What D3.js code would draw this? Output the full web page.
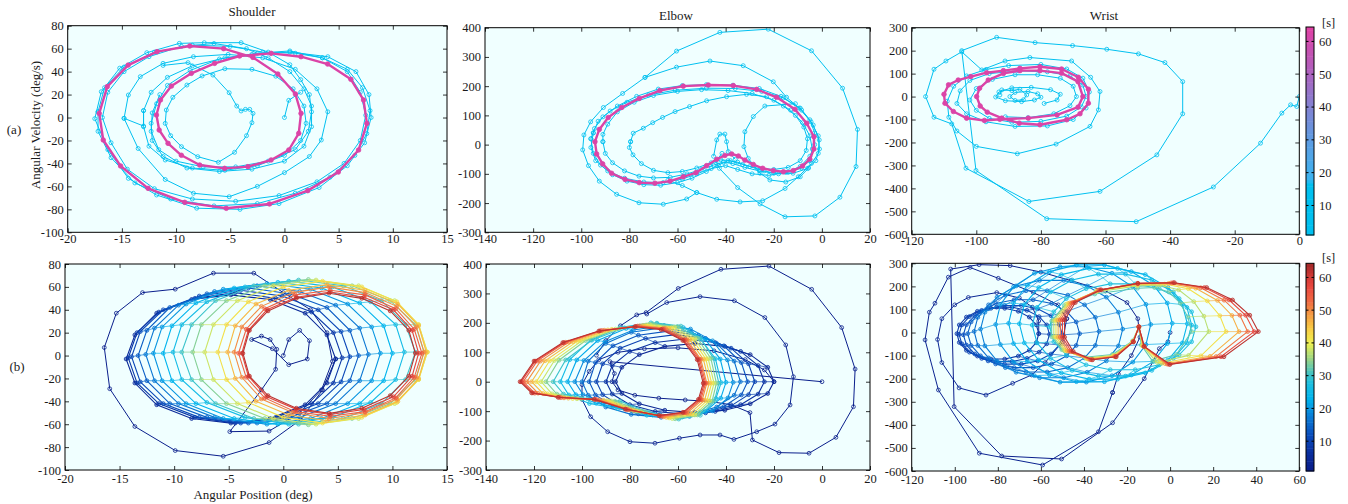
<!DOCTYPE html>
<html>
<head>
<meta charset="utf-8">
<script src="https://cdn.jsdelivr.net/npm/d3@7"></script>
<style>
  body { margin: 0; background: #fff; }
  text { font-family: "Liberation Serif", "Times New Roman", serif; }
</style>
</head>
<body>
<script>
// ---------- tick labels ----------
var shoulderXTicks = [-20, -15, -10, -5, 0, 5, 10, 15];
var shoulderYTicks = [-100, -80, -60, -40, -20, 0, 20, 40, 60, 80];
var elbowXTicks = [-140, -120, -100, -80, -60, -40, -20, 0, 20];
var elbowYTicks = [-300, -200, -100, 0, 100, 200, 300, 400];
var wristAXTicks = [-120, -100, -80, -60, -40, -20, 0];
var wristBXTicks = [-120, -100, -80, -60, -40, -20, 0, 20, 40, 60];
var wristYTicks = [-600, -500, -400, -300, -200, -100, 0, 100, 200, 300];
var colorTicks = [10, 20, 30, 40, 50, 60];

// colour maps (time in s -> colour)
var stopsA = [[1, "#00c0f0"], [17, "#00c0f0"], [17.6, "#3cb4f0"], [30, "#5e9ce2"], [40, "#8282d2"], [50, "#ac64c0"], [64.4, "#e040a4"]];
var stopsB = [[0.9, "#0a1c88"], [6, "#0a2c9c"], [12, "#0a4cbc"], [18, "#0a80d8"], [23, "#00b4ee"], [28, "#20c0e0"], [31, "#48c4c0"], [35, "#98d488"], [40, "#eef050"], [44, "#f8d044"], [48, "#f6a442"], [53, "#f06842"], [57, "#ea4a40"], [60, "#d63a36"], [64.3, "#a02828"]];

// row (a): time of the cyan trace and of the last loop
var aTimes = [10, 63];

// ---------- (a) Shoulder ----------
var shoulderA_cyan = [
  [[-11.2,45.4],[-8.9,47.8],[-6.6,37],[-5.1,21.6],[-4.4,10],[-4,5.7],[-3.6,7.1],[-3.2,7.1],[-2.9,3.6],[-3,-4.5],[-3.5,-15.8],[-4.6,-30.3],[-6.1,-39],[-8,-34.1],[-9.5,-25.4],[-10.5,-15.8],[-11,-5.1],[-10.9,6.5],[-10.3,17.6],[-9,28.3],[-7.6,36.2],[-5.5,42.5],[-3,42],[-0.8,36],[0.8,25],[1.8,10],[2,-5],[1.5,-20],[0,-33],[-2.5,-42],[-5.5,-46],[-8.5,-44],[-11,-37],[-12.5,-25],[-13,-8],[-13,6],[-12.3,22],[-10.8,35],[-8.5,45],[-5.5,52],[-2.5,56],[0.5,58],[3.5,52],[5.8,40],[7,22],[7.5,2],[7,-20],[5.5,-40],[3,-56],[-0.5,-68],[-4.5,-73],[-8.5,-71],[-12,-62],[-14.5,-45],[-16,-22],[-16.8,0],[-16.3,22],[-14.8,40],[-12.5,53],[-9.5,62],[-6.5,64.5],[-3.5,60],[-1.5,52],[0.5,40],[1.8,25],[2.5,10],[2.5,-8],[1.8,-25],[0,-38],[-3,-45],[-6,-47],[-9,-44],[-11.2,-34],[-12.2,-20],[-12.3,-5],[-11.8,12],[-10.8,28],[-8.7,41],[-6,51],[-3,55],[0.5,57],[4,53],[6.6,40],[7.8,20],[8,0],[7.4,-22],[5.8,-42],[3.2,-61],[-0.5,-75],[-4.1,-80],[-8.1,-79],[-11.8,-67.5],[-14.4,-53],[-16.3,-28],[-17.5,-1],[-16.9,22.5],[-15.2,43],[-12.7,56.5],[-9.7,64.6],[-7.4,65.2],[-4,65.2],[-1.5,57],[0.5,46],[1.5,33],[2.3,20],[2.5,5],[2.2,-12],[1,-28],[-1.5,-38],[-4.5,-43],[-7.5,-43],[-10,-38],[-11.6,-28],[-12.3,-12],[-12.2,4],[-11.5,20]],
  [[-14.8,-0.7],[-14.4,19.6],[-13.3,35.6],[-11.2,47.2],[-8.4,53],[-5.2,55],[-2,52],[1,42],[3,25],[4,5],[3.4,-19.6],[2.3,-34],[0,-48],[-2.5,-60],[-5.1,-69],[-8.4,-66],[-11,-54],[-13.5,-27],[-14.8,-0.7],[-13,-7.4],[-13,6]],
  [[-17.2,5],[-16.6,26],[-14.8,44],[-12,57],[-8.5,63],[-5,62],[-2,57],[1,56],[3.5,52],[5.8,42],[7.2,26],[7.9,6],[7.6,-14],[6.5,-33],[4.2,-52],[1,-66],[-2.5,-75],[-6.5,-77],[-10.5,-71],[-13.8,-57],[-16,-35],[-17.2,-12],[-17.2,5]],
  [[0,0],[0.4,15],[1.5,22]]
];
var shoulderA_final = [[-11.75,57.4],[-8.74,62.3],[-5.61,60],[-2.91,52.4],[-0.61,37.9],[1.01,20.5],[1.53,3.6],[1.32,-13.8],[0.4,-28.3],[-1.23,-37],[-3.37,-42.8],[-5.52,-44.3],[-7.82,-41.4],[-9.51,-32.9],[-10.74,-22.5],[-11.56,-10.9],[-11.81,2.2],[-11.44,15.3],[-10.43,27.4],[-8.59,38.5],[-6.44,47.2],[-4.14,53.6],[-1.23,55.9],[1.53,53],[3.99,46.6],[6.13,33.3],[7.3,15.3],[7.61,-5.1],[6.84,-28.3],[4.97,-47.5],[2.15,-63.7],[-1.38,-75.3],[-5.37,-79.1],[-9.2,-73.9],[-12.58,-61.7],[-15.12,-42.2],[-16.72,-19.6],[-17.09,3.6],[-16.35,26.9],[-14.42,45.7]];

// ---------- (a) Elbow ----------
var elbowA_cyan = [
  [[-52,-164],[-56.2,-186],[-65.9,-204],[-76,-199],[-85.3,-170],[-92.5,-125],[-97,-72],[-99.4,-18],[-98.9,33],[-96.1,78],[-90.8,127],[-82.8,175],[-73.5,230],[-60.4,320],[-42.4,384],[-22.3,395],[-4.3,321],[8.6,193],[14.8,52],[14.2,-75],[7.5,-180],[-2.9,-244],[-15.3,-247],[-25.7,-203],[-35,-147],[-42.6,-81],[-44,-55],[-41.5,-30]],
  [[-73.5,230],[-60.4,265],[-46.5,286],[-32.7,270],[-20.2,215],[-14.7,162],[-8.4,118],[-3.6,67],[-1.1,16],[-1.5,-30],[-4.3,-64],[-9.8,-110],[-15.3,-150],[-24.6,-192],[-34,-196],[-43.7,-187],[-52,-164],[-58,-140],[-64,-122]],
  [[-96,20],[-95,-30],[-92,-70],[-87,-103],[-81,-125],[-74,-137],[-67,-139],[-60,-130],[-54,-115],[-48,-92],[-43,-70],[-39,-55],[-35,-60],[-30,-75],[-24,-90],[-18,-100],[-12,-98],[-6,-82],[-2.5,-55],[-1,-15],[-1.5,30],[-4.5,78],[-9.5,125],[-17,165],[-26,192],[-37,203],[-48,205],[-58,202],[-68,190],[-77,165],[-85,132],[-91,95],[-94.5,55],[-96,20]],
  [[-91,10],[-90,-30],[-87,-62],[-82,-90],[-76,-108],[-70,-114],[-63,-112],[-56,-100],[-50,-85],[-45,-70],[-41,-60],[-37,-65],[-32,-78],[-26,-90],[-20,-98],[-14,-95],[-8.5,-80],[-5,-55],[-4,-15],[-5,30],[-8,75],[-13,118],[-20,152],[-29,175],[-39,185],[-50,188],[-60,182],[-70,168],[-78,145],[-85,112],[-89,70],[-91,35],[-91,10]],
  [[-95,40],[-93,80],[-88,115],[-81,145],[-72,170],[-61,186],[-48,193],[-36,192],[-25,182],[-16,160],[-9,125],[-5,85],[-3,40],[-3,0],[-5,-40],[-9,-75],[-15,-95],[-22,-105],[-29,-100],[-35,-85],[-40,-72],[-46,-82],[-52,-100],[-58,-118],[-66,-130],[-74,-128],[-82,-115],[-89,-90],[-94,-55],[-96,-10],[-95,40]],
  [[-79.5,10],[-78.4,39],[-74.2,56],[-70.3,75],[-66.2,93],[-61,113],[-55,130],[-47.9,150],[-39.6,164],[-31.3,172],[-23,164],[-16,132],[-11,100],[-7.5,60],[-6,20],[-6.5,-20],[-9,-55],[-14,-78],[-20,-85],[-27,-80],[-33,-68],[-38,-55],[-42,-52],[-46,-62],[-52,-80],[-58,-92],[-64,-96],[-70,-88],[-75,-65],[-78.5,-35],[-80,-10],[-79.5,10]],
  [[-11,140],[-23.7,132],[-28.5,96],[-32,44],[-32.4,-7],[-30.6,-47],[-25.7,-98],[-21.6,-121],[-15,-128],[-9,-110],[-5.5,-80]],
  [[-45,-40],[-43.7,16],[-42.4,36],[-40.3,36],[-39.6,10],[-38.9,-24],[-36,-50]]
];
var elbowA_final = [[-94.3,10],[-93.6,-32],[-91.1,-66],[-87.4,-98],[-81.8,-119],[-75.9,-130],[-69.4,-132],[-63.1,-125],[-57.6,-110],[-52.3,-96],[-47.9,-72],[-43.7,-50],[-40.3,-37],[-37.5,-32],[-34.7,-39],[-32,-53],[-28.5,-68],[-24.6,-81],[-20.2,-89],[-16,-93],[-11.9,-89],[-8,-73],[-5,-50],[-3.3,-15],[-3.3,27],[-6.3,73],[-11.2,121],[-18.8,162],[-27.1,189],[-36.8,202],[-47.2,204],[-57.6,200],[-67.3,185],[-75.9,158],[-83.2,127],[-88.8,93],[-92.5,52]];

// ---------- (a) Wrist ----------
var wristA_cyan = [
  [[0,0],[-0.8,-43],[-2.7,-36],[-5.4,-72],[-12,-203],[-26.6,-394],[-50.5,-545],[-78.2,-532],[-100.1,-322],[-104.5,200],[-93.7,258],[-81.8,235],[-70.2,222],[-59.6,206],[-49.8,186],[-41.6,148],[-36.1,65],[-36.1,-75],[-44.1,-254],[-61.7,-413],[-83.7,-457],[-103.2,-312],[-107.6,-119],[-113.1,-90],[-115.7,0],[-113.1,119],[-109.4,155],[-104.5,195],[-98.3,116],[-91.1,155],[-83.4,170],[-70.5,155],[-64.6,84],[-61.7,22],[-62.2,-58],[-64.8,-130],[-75.3,-207],[-87.3,-249],[-100,-217],[-106,-150],[-108.5,-90],[-109,-20],[-107,45],[-103,90],[-97,118],[-90,135],[-80,140],[-72,120],[-67,80],[-65,20],[-66,-50],[-70,-100],[-78,-128],[-88,-130],[-97,-110],[-103,-75],[-106,-30],[-105,25],[-102,70],[-96,100],[-87,112],[-78,108],[-71,90],[-67,50],[-66,0],[-67.5,-45],[-72,-85],[-80,-108],[-89,-112],[-96,-95],[-100,-60],[-102,-15],[-100,35],[-95,75],[-88,95],[-81,95],[-74,80],[-70,45],[-69,0],[-71,-40],[-76,-75],[-84,-92],[-91,-88]],
  [[-92.7,7],[-92.1,29],[-89,26],[-86.5,32],[-84.4,7],[-85.4,-14],[-88,-17],[-89.6,0],[-88,18],[-84,22],[-81,12],[-80,-3],[-82,-15],[-86,-22],[-91,-18],[-94,-2],[-93,20],[-89,38],[-83,40],[-77,30],[-74,10],[-75,-15],[-79,-30]]
];
var wristA_final = [[-110,10],[-108.6,51],[-105.6,72],[-101.7,87],[-96.8,104],[-91.6,113],[-86.5,123],[-80.3,130],[-73.6,120],[-68.4,84],[-65.3,32],[-65.3,-29],[-67.9,-75],[-72,-101],[-80.3,-123],[-86.7,-116],[-92.1,-94],[-96.6,-68],[-98.8,-41],[-99.9,0],[-99,36],[-96.3,72],[-91.6,101],[-86.5,113],[-80.3,113],[-73.6,102],[-68.5,65],[-67,0],[-68.5,-46],[-75,-80],[-83.9,-94],[-92.7,-99],[-97.5,-104],[-103,-94],[-107.1,-65],[-109.7,-29]];

// ---------- (b) Shoulder ----------
var shoulderB_start = [
  [[0,0],[0.5,14],[1.5,22],[2.4,13],[2.2,-3],[0.5,-8],[-1,6],[-2.9,14],[-2,17],[-1.2,14],[-0.6,5.5],[-0.7,-12],[-2,-30],[-4.9,-66.5],[-1.3,-66],[1.5,-50],[3.5,-30],[4.5,-5],[4,20],[2.5,40],[0,55],[-2.7,72],[-6.4,72],[-9.9,58],[-12.9,55],[-15.3,37],[-16.4,7],[-15.9,-29],[-13.6,-62],[-9.9,-83],[-5.5,-88],[-1.3,-76],[1.6,-56],[3.6,-30],[4.8,-3]]
];
var shoulderB_startTimes = [2];
var shoulderB_loops = [
  [[4.8,-3],[4.0,18],[2.0,37],[-1.2,49],[-4.8,53],[-8.4,49],[-11.6,37],[-13.6,18],[-14.4,-3],[-13.6,-24],[-11.6,-43],[-8.4,-55],[-4.8,-59],[-1.2,-55],[2.0,-43],[4.0,-24]],
  [[5.4,-2],[4.6,20],[2.6,38],[-0.7,50],[-4.4,55],[-8.1,50],[-11.4,38],[-13.4,20],[-14.2,-2],[-13.4,-24],[-11.4,-42],[-8.1,-54],[-4.4,-59],[-0.7,-54],[2.6,-42],[4.6,-24]],
  [[6.1,-1],[5.3,21],[3.2,40],[-0.1,52],[-3.9,57],[-7.7,52],[-11,40],[-13.1,21],[-13.9,-1],[-13.1,-23],[-11,-42],[-7.7,-54],[-3.9,-59],[-0.1,-54],[3.2,-42],[5.3,-23]],
  [[6.9,0],[6.1,22],[4,42],[0.6,54],[-3.2,59],[-7,54],[-10.4,42],[-12.5,22],[-13.3,0],[-12.5,-22],[-10.4,-42],[-7,-54],[-3.2,-59],[0.6,-54],[4,-42],[6.1,-22]],
  [[7.8,1],[7,24],[4.8,44],[1.5,56],[-2.4,61],[-6.3,56],[-9.6,44],[-11.8,24],[-12.6,1],[-11.8,-22],[-9.6,-42],[-6.3,-54],[-2.4,-59],[1.5,-54],[4.8,-42],[7,-22]],
  [[8.9,2],[8.1,25],[5.9,45],[2.5,58],[-1.5,63],[-5.5,58],[-8.9,45],[-11.1,25],[-11.9,2],[-11.1,-22],[-8.9,-42],[-5.5,-55],[-1.5,-60],[2.5,-55],[5.9,-42],[8.1,-22]],
  [[10,2],[9.2,26],[7,46],[3.5,59],[-0.5,64],[-4.5,59],[-8,46],[-10.2,26],[-11,2],[-10.2,-22],[-8,-42],[-4.5,-55],[-0.5,-60],[3.5,-55],[7,-42],[9.2,-22]],
  [[11.1,3],[10.3,27],[8,47],[4.5,60],[0.5,65],[-3.5,60],[-7,47],[-9.3,27],[-10.1,3],[-9.3,-21],[-7,-41],[-3.5,-54],[0.5,-60],[4.5,-54],[8,-41],[10.3,-21]],
  [[12.1,3],[11.2,27],[9,48],[5.5,61],[1.4,66],[-2.7,61],[-6.2,48],[-8.4,27],[-9.3,3],[-8.4,-21],[-6.2,-42],[-2.7,-55],[1.4,-60],[5.5,-55],[9,-42],[11.2,-21]],
  [[12.9,3],[12.1,27],[9.8,48],[6.3,61],[2.3,66.5],[-1.7,61],[-5.2,48],[-7.5,27],[-8.3,3],[-7.5,-21],[-5.2,-42],[-1.7,-55],[2.3,-60.5],[6.3,-55],[9.8,-42],[12.1,-21]],
  [[13.2,3],[12.4,27],[10.2,48],[6.9,61],[3,66],[-0.9,61],[-4.2,48],[-6.4,27],[-7.2,3],[-6.4,-21],[-4.2,-42],[-0.9,-55],[3,-60],[6.9,-55],[10.2,-42],[12.4,-21]],
  [[13.2,3],[12.4,27],[10.4,47],[7.2,60],[3.6,65],[0,60],[-3.2,47],[-5.2,27],[-6,3],[-5.2,-21],[-3.2,-41],[0,-54],[3.6,-59],[7.2,-54],[10.4,-41],[12.4,-21]],
  [[13.1,3],[12.4,26],[10.5,45],[7.5,57],[4,62],[0.5,57],[-2.5,45],[-4.4,26],[-5.1,3],[-4.4,-20],[-2.5,-40],[0.5,-52],[4,-57],[7.5,-52],[10.5,-40],[12.4,-20]],
  [[12.9,3],[12.2,25],[10.4,43],[7.5,55],[4.2,60],[0.9,55],[-2,43],[-3.8,25],[-4.5,3],[-3.8,-19],[-2,-38],[0.9,-50],[4.2,-55],[7.5,-50],[10.4,-38],[12.2,-19]],
  [[12.7,2],[12,23],[10.3,41],[7.5,53],[4.3,57],[1.1,53],[-1.7,41],[-3.4,23],[-4.1,2],[-3.4,-19],[-1.7,-37],[1.1,-49],[4.3,-53],[7.5,-49],[10.3,-37],[12,-19]],
  [[12.4,2],[11.8,22],[10.1,40],[7.4,51],[4.3,55.5],[1.2,51],[-1.5,40],[-3.2,22],[-3.8,2],[-3.2,-18],[-1.5,-36],[1.2,-47],[4.3,-51.5],[7.4,-47],[10.1,-36],[11.8,-18]],
  [[12.1,2],[11.5,22],[9.8,39],[7.2,50],[4.2,54.5],[1.2,50],[-1.4,39],[-3.1,22],[-3.7,2],[-3.1,-18],[-1.4,-35],[1.2,-46],[4.2,-50.5],[7.2,-46],[9.8,-35],[11.5,-18]]
];
var shoulderB_times = [5, 8, 11, 14, 17, 20, 23, 26, 30, 34, 38, 42, 46, 50, 54, 58, 62];

// ---------- (b) Elbow ----------
var elbowB_start = [
  [[0,0],[-88.3,68],[-86.5,28],[-87.5,0],[-85,-28],[-78,-46],[-68,-56],[-57,-62],[-47,-67],[-38,-78],[-30,-105],[-29,-198],[-17.9,-241],[-5.4,-243],[5.8,-189],[13.1,-85],[13.8,43],[8.2,184],[-4.3,314],[-22.1,393],[-42.1,382],[-59.9,317],[-73.3,235],[-77.2,227],[-84,190],[-90,140],[-94,90]],
  [[-73,230],[-64.7,269],[-50.8,289],[-36.5,275],[-23.8,218],[-15.1,125],[-11.9,17],[-13.3,-79],[-19.6,-144],[-27.2,-170],[-36.7,-196],[-42.5,-181],[-50.8,-181],[-59.4,-192],[-69.6,-209],[-80,-204],[-89.3,-170],[-96.4,-119],[-100,-60],[-100,-10],[-97,35],[-93,75],[-85,100],[-74,112],[-60,115],[-45,105],[-32,75],[-24,40],[-20,0]]
];
var elbowB_startTimes = [2, 3];
var elbowB_loops = [
  [[-20,0],[-22.6,49],[-29.9,92],[-40.5,120],[-53,130],[-65.5,120],[-76.1,92],[-83.4,49],[-86,0],[-83.4,-40],[-76.1,-75],[-65.5,-97],[-53,-105],[-40.5,-97],[-29.9,-75],[-22.6,-40]],
  [[-24,0],[-26.6,55],[-33.9,103],[-44.5,133],[-57,145],[-69.5,133],[-80.1,103],[-87.4,55],[-90,0],[-87.4,-42],[-80.1,-78],[-69.5,-101],[-57,-110],[-44.5,-101],[-33.9,-78],[-26.6,-42]],
  [[-28,0],[-30.6,61],[-37.9,114],[-48.5,147],[-61,160],[-73.5,147],[-84.1,114],[-91.4,61],[-94,0],[-91.4,-44],[-84.1,-82],[-73.5,-106],[-61,-115],[-48.5,-106],[-37.9,-82],[-30.6,-44]],
  [[-31,0],[-33.6,65],[-40.9,122],[-51.5,158],[-64,172],[-76.5,158],[-87.1,122],[-94.4,65],[-97,0],[-94.4,-45],[-87.1,-84],[-76.5,-109],[-64,-118],[-51.5,-109],[-40.9,-84],[-33.6,-45]],
  [[-34,0],[-36.6,70],[-43.9,130],[-54.5,168],[-67,183],[-79.5,168],[-90.1,130],[-97.4,70],[-100,0],[-97.4,-46],[-90.1,-86],[-79.5,-111],[-67,-121],[-54.5,-111],[-43.9,-86],[-36.6,-46]],
  [[-37,-2],[-39.4,74],[-45.6,139],[-54.8,179],[-65.8,191],[-78.6,176],[-90.5,136],[-99.2,72],[-103,0],[-99.6,-44],[-91.1,-72],[-79.4,-89],[-67.6,-111],[-55.2,-118],[-45.6,-99],[-39.2,-55]],
  [[-40,-2],[-42.4,77],[-48.6,144],[-57.8,184],[-68.8,197],[-81.6,181],[-93.5,140],[-102.2,74],[-106,0],[-102.6,-44],[-94.1,-73],[-82.4,-90],[-70.6,-113],[-58.2,-120],[-48.6,-101],[-42.2,-56]],
  [[-42,-3],[-44.4,78],[-50.7,146],[-60.1,187],[-71.3,200],[-84.2,184],[-96.3,142],[-105.1,75],[-109,0],[-105.5,-45],[-96.9,-74],[-85.1,-91],[-73,-114],[-60.5,-122],[-50.7,-102],[-44.2,-57]],
  [[-43,-5],[-45.3,80],[-50.7,149],[-58.8,189],[-68.8,199],[-82.3,183],[-95.9,141],[-106.8,74],[-112,0],[-107.7,-42],[-97.7,-58],[-84.1,-66],[-72.4,-103],[-59.7,-127],[-50.7,-114],[-44.8,-66]],
  [[-44,-5],[-46.3,79],[-51.9,148],[-60.3,187],[-70.6,197],[-84.5,181],[-98.5,140],[-109.6,73],[-115,0],[-110.5,-42],[-100.3,-58],[-86.3,-66],[-74.2,-102],[-61.2,-126],[-51.9,-113],[-45.8,-66]],
  [[-45,-5],[-47.4,78],[-53,146],[-61.5,185],[-71.9,195],[-86,179],[-100.2,138],[-111.5,72],[-117,0],[-112.5,-41],[-102.1,-58],[-87.9,-65],[-75.7,-101],[-62.4,-125],[-53,-113],[-46.9,-65]],
  [[-46,-5],[-48.4,77],[-54.1,145],[-62.7,183],[-73.3,193],[-87.6,178],[-102,137],[-113.5,71],[-119,0],[-114.4,-41],[-103.9,-57],[-89.5,-64],[-77.1,-100],[-63.7,-123],[-54.1,-111],[-47.9,-64]],
  [[-47,-5],[-49.4,76],[-55.2,143],[-63.9,181],[-74.7,191],[-89.2,176],[-103.8,136],[-115.4,71],[-121,0],[-116.3,-40],[-105.7,-56],[-91.1,-63],[-78.5,-98],[-64.9,-121],[-55.2,-109],[-48.9,-63]],
  [[-48,-5],[-50.5,76],[-56.3,143],[-65.2,181],[-76,190],[-90.7,175],[-105.5,135],[-117.3,70],[-123,0],[-118.3,-39],[-107.5,-55],[-92.7,-62],[-79.9,-96],[-66.1,-119],[-56.3,-107],[-49.9,-62]],
  [[-48.5,-5],[-51,76],[-56.9,142],[-65.9,180],[-76.9,189],[-91.8,174],[-106.8,134],[-118.7,70],[-124.5,0],[-119.7,-39],[-108.8,-54],[-93.8,-61],[-80.9,-95],[-66.9,-117],[-56.9,-105],[-50.5,-61]],
  [[-49,-5],[-51.5,75],[-57.5,141],[-66.5,179],[-77.5,188],[-92.5,173],[-107.5,133],[-119.5,70],[-125.3,0],[-120.5,-38],[-109.5,-53],[-94.5,-60],[-81.5,-94],[-67.5,-116],[-57.5,-104],[-51,-60]],
  [[-49.5,-5],[-52,75],[-58,140],[-67,177],[-78,187],[-93,172],[-108,133],[-120,70],[-125.8,0],[-121,-38],[-110,-53],[-95,-60],[-82,-93],[-68,-115],[-58,-104],[-51.5,-60]]
];
var elbowB_times = [4, 7, 10, 13, 16, 19, 22, 26, 30, 34, 38, 42, 46, 50, 54, 58, 62];

// ---------- (b) Wrist ----------
var wristB_start = [
  [[0,0],[-1,-40],[-5,-70],[-12,-200],[-26.7,-391],[-50.4,-548],[-78.2,-535],[-100.3,-321],[-101.9,275],[-88.7,294],[-74.3,290],[-60,262],[-46,225],[-30,180],[-20,130],[-15,60],[-14,-20],[-18,-100],[-24,-180],[-26.7,-260]],
  [[-26.7,-260],[-33.3,-430],[-59.2,-574],[-88.6,-523],[-107.6,-249],[-113.8,-32],[-111.8,88],[-109.2,127],[-103,240],[-92.9,282],[-79.8,235],[-63.5,173],[-52,120],[-48,60]],
  [[-48,60],[-50,-40],[-58,-130],[-64.3,-184],[-73.1,-220],[-85.5,-271],[-98,-240],[-106,-130],[-108,-30],[-106,60],[-100,120],[-93.7,152],[-80.5,173],[-70,150],[-64,110],[-61,50],[-61,-5]]
];
var wristB_startTimes = [2, 3, 4];
var wristB_early = [
  [[-61,-5],[-62.1,33],[-65.4,67],[-70.5,92],[-76.8,105],[-83.2,105],[-89.5,92],[-94.6,67],[-97.9,33],[-99,-5],[-97.9,-43],[-94.6,-77],[-89.5,-102],[-83.2,-115],[-76.8,-115],[-70.5,-102],[-65.4,-77],[-62.1,-43]],
  [[-56,-8],[-57.3,33],[-60.8,69],[-66.5,96],[-73.4,110],[-80.6,110],[-87.5,96],[-93.2,69],[-96.7,33],[-98,-8],[-96.7,-49],[-93.2,-85],[-87.5,-112],[-80.6,-126],[-73.4,-126],[-66.5,-112],[-60.8,-85],[-57.3,-49]],
  [[-50,-10],[-51.4,34],[-55.3,73],[-61.5,103],[-69.1,117],[-76.9,117],[-84.5,103],[-90.7,73],[-94.6,34],[-96,-10],[-94.6,-54],[-90.7,-93],[-84.5,-123],[-76.9,-137],[-69.1,-137],[-61.5,-123],[-55.3,-93],[-51.4,-54]],
  [[-42,-5],[-43.6,46],[-48,91],[-55,126],[-63.6,142],[-72.4,142],[-81,126],[-88,91],[-92.4,46],[-94,-5],[-92.4,-56],[-88,-101],[-81,-136],[-72.4,-152],[-63.6,-152],[-55,-136],[-48,-101],[-43.6,-56]],
  [[-33,5],[-34.7,66],[-39.7,120],[-47.5,162],[-57.1,181],[-66.9,181],[-76.5,162],[-84.3,120],[-89.3,66],[-91,5],[-89.3,-56],[-84.3,-110],[-76.5,-152],[-66.9,-171],[-57.1,-171],[-47.5,-152],[-39.7,-110],[-34.7,-56]],
  [[-22,15],[-24,88],[-29.6,153],[-38.5,202],[-49.4,226],[-60.6,226],[-71.5,202],[-80.4,153],[-86,88],[-88,15],[-86,-58],[-80.4,-123],[-71.5,-172],[-60.6,-196],[-49.4,-196],[-38.5,-172],[-29.6,-123],[-24,-58]],
  [[-9,35],[-11.2,122],[-17.3,198],[-27,257],[-38.9,285],[-51.1,285],[-63,257],[-72.7,198],[-78.8,122],[-81,35],[-78.8,-52],[-72.7,-128],[-63,-187],[-51.1,-215],[-38.9,-215],[-27,-187],[-17.3,-128],[-11.2,-52]],
  [[1,40],[-1.3,128],[-7.7,205],[-18,264],[-30.5,293],[-43.5,293],[-56,264],[-66.3,205],[-72.7,128],[-75,40],[-72.7,-48],[-66.3,-125],[-56,-184],[-43.5,-213],[-30.5,-213],[-18,-184],[-7.7,-125],[-1.3,-48]],
  [[8,38],[5.7,121],[-1,195],[-11.5,251],[-24.4,278],[-37.6,278],[-50.5,251],[-61,195],[-67.7,121],[-70,38],[-67.7,-45],[-61,-119],[-50.5,-175],[-37.6,-202],[-24.4,-202],[-11.5,-175],[-1,-119],[5.7,-45]],
  [[10,32],[7.8,109],[1.5,176],[-8.5,228],[-20.7,253],[-33.3,253],[-45.5,228],[-55.5,176],[-61.8,109],[-64,32],[-61.8,-45],[-55.5,-112],[-45.5,-164],[-33.3,-189],[-20.7,-189],[-8.5,-164],[1.5,-112],[7.8,-45]],
  [[12,25],[10,90],[4.2,147],[-5,190],[-16.2,211],[-27.8,211],[-39,190],[-48.2,147],[-54,90],[-56,25],[-54,-40],[-48.2,-97],[-39,-140],[-27.8,-161],[-16.2,-161],[-5,-140],[4.2,-97],[10,-40]]
];
var wristB_earlyTimes = [8, 10, 12, 14, 16, 18, 20, 22, 24, 26, 28];
var wristB_late = [
  [[10,4],[8.2,68],[4.7,127],[-0.6,176],[-7.2,195],[-15.1,192],[-35,167],[-49.1,117],[-55,50],[-55,-18],[-50.3,-74],[-39.7,-107],[-26.8,-95],[-17.4,-36],[-14.5,23],[-13.4,-54],[-8.1,-125],[2.9,-95]],
  [[18,4],[15.7,71],[11,134],[4,185],[-4.8,205],[-15.1,202],[-34.5,176],[-48.3,123],[-54,52],[-54,-19],[-49.4,-77],[-39.1,-111],[-26.5,-99],[-17.4,-38],[-14.5,24],[-13,-56],[-6,-130],[8.6,-99]],
  [[26,4],[23.1,73],[17.3,137],[8.5,190],[-2.5,210],[-15.1,207],[-34,180],[-47.4,126],[-53,53],[-53,-19],[-48.5,-79],[-38.5,-114],[-26.2,-101],[-17.3,-39],[-14.5,24],[-12.7,-58],[-3.9,-133],[14.3,-101]],
  [[32,4],[28.7,74],[22,139],[11.9,192],[-0.7,213],[-15,210],[-33.5,182],[-46.6,128],[-52,54],[-52,-20],[-47.7,-80],[-37.9,-115],[-25.9,-103],[-17.2,-39],[-14.5,25],[-12.4,-59],[-2.3,-135],[18.6,-103]],
  [[36,4],[32.4,75],[25.1,140],[14.2,194],[0.5,215],[-15,212],[-33,184],[-45.7,129],[-51,55],[-51,-20],[-46.8,-81],[-37.2,-117],[-25.6,-104],[-17.1,-40],[-14.5,25],[-12.2,-60],[-1.3,-137],[21.4,-104]],
  [[39,4],[35.1,75],[27.4,141],[15.9,195],[1.4,216],[-15,213],[-32.5,185],[-44.9,130],[-50,55],[-50,-20],[-45.9,-82],[-36.6,-118],[-25.3,-105],[-17.1,-40],[-14.5,25],[-12.1,-60],[-0.5,-138],[23.6,-105]],
  [[41,4],[37,75],[29,141],[17,195],[2,216],[-15,213],[-32,185],[-44,130],[-49,55],[-49,-20],[-45,-82],[-36,-118],[-25,-105],[-17,-40],[-14.5,25],[-12,-60],[0,-138],[25,-105]]
];
var wristB_lateTimes = [32, 37, 42, 47, 52, 57, 62];

// ---------- drawing ----------
var svg = d3.select("body").append("svg").attr("width", 1348).attr("height", 504);
var serif = '"Liberation Serif", "Times New Roman", serif';

function makeScale(stops) {
  return d3.scaleLinear().domain(stops.map(function(s) { return s[0]; }))
    .range(stops.map(function(s) { return s[1]; })).clamp(true);
}
var cmapA = makeScale(stopsA);
var cmapB = makeScale(stopsB);

function makePanel(id, box, xDomain, yDomain) {
  var x = d3.scaleLinear().domain(xDomain).range([box.l, box.r]);
  var y = d3.scaleLinear().domain(yDomain).range([box.b, box.t]);
  svg.append("rect").attr("x", box.l).attr("y", box.t)
    .attr("width", box.r - box.l).attr("height", box.b - box.t).attr("fill", "#f0ffff");
  svg.append("clipPath").attr("id", id).append("rect")
    .attr("x", box.l).attr("y", box.t).attr("width", box.r - box.l).attr("height", box.b - box.t);
  var g = svg.append("g").attr("clip-path", "url(#" + id + ")");
  return {x: x, y: y, g: g, box: box};
}

function drawFrame(p, xTicks, yTicks, xPad) {
  var b = p.box, fmt = function(d) { return String(d); };
  var axes = [
    svg.append("g").attr("transform", "translate(0," + b.b + ")")
      .call(d3.axisBottom(p.x).tickValues(xTicks).tickSizeInner(-4).tickSizeOuter(0).tickPadding(xPad).tickFormat(fmt)),
    svg.append("g").attr("transform", "translate(0," + b.t + ")")
      .call(d3.axisTop(p.x).tickValues(xTicks).tickSizeInner(-4).tickSizeOuter(0).tickFormat("")),
    svg.append("g").attr("transform", "translate(" + b.l + ",0)")
      .call(d3.axisLeft(p.y).tickValues(yTicks).tickSizeInner(-4).tickSizeOuter(0).tickPadding(4).tickFormat(fmt)),
    svg.append("g").attr("transform", "translate(" + b.r + ",0)")
      .call(d3.axisRight(p.y).tickValues(yTicks).tickSizeInner(-4).tickSizeOuter(0).tickFormat(""))
  ];
  axes.forEach(function(a) {
    a.select(".domain").remove();
    a.selectAll("line").attr("stroke", "#000").attr("stroke-width", 0.8);
    a.selectAll("text").attr("font-family", serif).attr("font-size", 12.5).attr("fill", "#1a1a1a");
  });
  svg.append("rect").attr("x", b.l).attr("y", b.t).attr("width", b.r - b.l).attr("height", b.b - b.t)
    .attr("fill", "none").attr("stroke", "#000").attr("stroke-width", 1);
}

function drawTrack(p, pts, color, width, r, filled, closed) {
  var line = d3.line().x(function(d) { return p.x(d[0]); }).y(function(d) { return p.y(d[1]); });
  if (closed) line.curve(d3.curveLinearClosed);
  p.g.append("path").datum(pts).attr("d", line).attr("fill", "none")
    .attr("stroke", color).attr("stroke-width", width).attr("stroke-linejoin", "round");
  p.g.append("g").selectAll("circle").data(pts).enter().append("circle")
    .attr("cx", function(d) { return p.x(d[0]); })
    .attr("cy", function(d) { return p.y(d[1]); })
    .attr("r", r)
    .attr("fill", filled ? color : "none")
    .attr("stroke", color).attr("stroke-width", 0.8);
}

function drawMesh(p, loops, times) {
  var line = d3.line().x(function(d) { return p.x(d[0]); }).y(function(d) { return p.y(d[1]); })
    .curve(d3.curveLinearClosed);
  loops.forEach(function(loop, k) {
    var c = cmapB(times[k]);
    if (k > 0) {
      var prev = loops[k - 1];
      p.g.append("g").selectAll("line").data(loop).enter().append("line")
        .attr("x1", function(d, i) { return p.x(prev[i][0]); })
        .attr("y1", function(d, i) { return p.y(prev[i][1]); })
        .attr("x2", function(d) { return p.x(d[0]); })
        .attr("y2", function(d) { return p.y(d[1]); })
        .attr("stroke", c).attr("stroke-width", 0.8).attr("opacity", 0.85);
    }
    p.g.append("path").datum(loop).attr("d", line).attr("fill", "none")
      .attr("stroke", c).attr("stroke-width", 1.1);
    p.g.append("g").selectAll("circle").data(loop).enter().append("circle")
      .attr("cx", function(d) { return p.x(d[0]); })
      .attr("cy", function(d) { return p.y(d[1]); })
      .attr("r", 1.9).attr("fill", c).attr("fill-opacity", 0.35)
      .attr("stroke", c).attr("stroke-width", 0.8);
  });
}

function drawColorbar(box, domain, cmap, ticks, labelY) {
  var y = d3.scaleLinear().domain(domain).range([box.b, box.t]);
  var n = 64, step = (domain[1] - domain[0]) / n;
  svg.append("g").selectAll("rect").data(d3.range(n)).enter().append("rect")
    .attr("x", box.l).attr("width", box.r - box.l)
    .attr("y", function(i) { return y(domain[0] + (i + 1) * step); })
    .attr("height", function(i) { return y(domain[0] + i * step) - y(domain[0] + (i + 1) * step) + 0.5; })
    .attr("fill", function(i) { return cmap(domain[0] + (i + 0.5) * step); });
  svg.append("rect").attr("x", box.l).attr("y", box.t).attr("width", box.r - box.l).attr("height", box.b - box.t)
    .attr("fill", "none").attr("stroke", "#000").attr("stroke-width", 1);
  var t = svg.append("g").selectAll("g").data(ticks).enter().append("g");
  t.append("line").attr("x1", box.l).attr("x2", box.l + 2.5)
    .attr("y1", function(d) { return y(d); }).attr("y2", function(d) { return y(d); }).attr("stroke", "#000");
  t.append("line").attr("x1", box.r - 2.5).attr("x2", box.r)
    .attr("y1", function(d) { return y(d); }).attr("y2", function(d) { return y(d); }).attr("stroke", "#000");
  t.append("text").attr("x", box.r + 5).attr("y", function(d) { return y(d); }).attr("dy", "0.35em")
    .attr("font-family", serif).attr("font-size", 12.5).attr("fill", "#1a1a1a").text(function(d) { return d; });
  svg.append("text").attr("x", box.r + 8).attr("y", labelY).attr("font-family", serif)
    .attr("font-size", 12.5).attr("fill", "#1a1a1a").text("[s]");
}

function drawRowA(p, cyanSegs, finalLoop) {
  var cCyan = cmapA(aTimes[0]), cFinal = cmapA(aTimes[1]);
  cyanSegs.forEach(function(seg) { drawTrack(p, seg, cCyan, 1, 2, false, false); });
  drawTrack(p, finalLoop, cFinal, 2.4, 2.3, true, true);
}

function drawRowB(p, starts, startTimes, groups) {
  starts.forEach(function(s, i) { drawTrack(p, s, cmapB(startTimes[i]), 1, 1.9, false, false); });
  groups.forEach(function(gr) { drawMesh(p, gr[0], gr[1]); });
}

// ----- row (a) -----
var sa = makePanel("clipSA", {l: 67.7, r: 447, t: 25.7, b: 232.3}, [-20, 15], [-100, 80]);
drawRowA(sa, shoulderA_cyan, shoulderA_final);
drawFrame(sa, shoulderXTicks, shoulderYTicks, 2);

var ea = makePanel("clipEA", {l: 485, r: 870, t: 27.7, b: 232.3}, [-140, 20], [-300, 400]);
drawRowA(ea, elbowA_cyan, elbowA_final);
drawFrame(ea, elbowXTicks, elbowYTicks, 2);

var wa = makePanel("clipWA", {l: 911.7, r: 1299.3, t: 27.7, b: 234.3}, [-120, 0], [-600, 300]);
drawRowA(wa, wristA_cyan, wristA_final);
drawFrame(wa, wristAXTicks, wristYTicks, 2);

drawColorbar({l: 1306, r: 1314, t: 27, b: 235}, [1, 64.4], cmapA, colorTicks, 27);

// ----- row (b) -----
var sb = makePanel("clipSB", {l: 65, r: 447, t: 264, b: 470}, [-20, 15], [-100, 80]);
drawRowB(sb, shoulderB_start, shoulderB_startTimes, [[shoulderB_loops, shoulderB_times]]);
drawFrame(sb, shoulderXTicks, shoulderYTicks, 4);

var eb = makePanel("clipEB", {l: 486, r: 870, t: 264, b: 470}, [-140, 20], [-300, 400]);
drawRowB(eb, elbowB_start, elbowB_startTimes, [[elbowB_loops, elbowB_times]]);
drawFrame(eb, elbowXTicks, elbowYTicks, 4);

var wb = makePanel("clipWB", {l: 911.7, r: 1299.3, t: 263.3, b: 471}, [-120, 60], [-600, 300]);
drawRowB(wb, wristB_start, wristB_startTimes, [[wristB_early, wristB_earlyTimes], [wristB_late, wristB_lateTimes]]);
drawFrame(wb, wristBXTicks, wristYTicks, 4);

drawColorbar({l: 1306, r: 1314, t: 263.3, b: 471}, [0.9, 64.3], cmapB, colorTicks, 262);

// ----- titles and labels -----
function label(x, y, txt, rot) {
  var t = svg.append("text").attr("x", x).attr("y", y).attr("text-anchor", "middle")
    .attr("font-family", serif).attr("font-size", 13).attr("fill", "#1a1a1a").text(txt);
  if (rot) t.attr("transform", "rotate(-90," + x + "," + y + ")").attr("dy", "0.35em");
  return t;
}
label(252, 16, "Shoulder");
label(676, 19.5, "Elbow");
label(1104, 19.5, "Wrist");
label(35, 125, "Angular Velocity (deg/s)", true);
label(253, 499, "Angular Position (deg)");
label(14, 134, "(a)");
label(17, 371, "(b)");
</script>
</body>
</html>
